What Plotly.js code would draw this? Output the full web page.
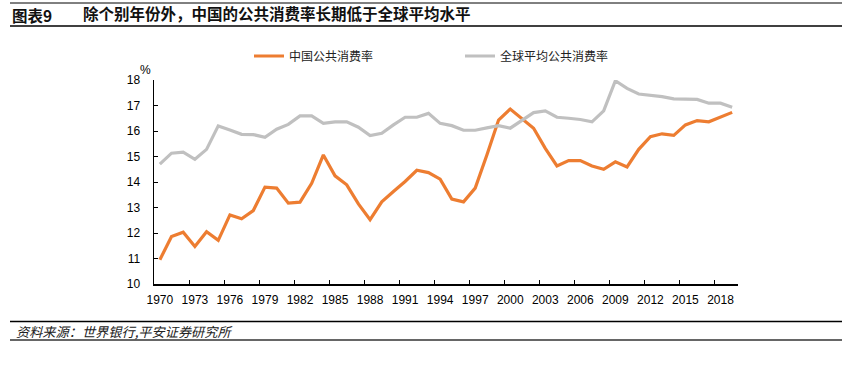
<!DOCTYPE html>
<html>
<head>
<meta charset="utf-8">
<script src="https://cdn.plot.ly/plotly-3.0.1.min.js"></script>
<style>html,body{margin:0;padding:0;background:#fff;}#chart{width:865px;height:366px;}</style>
</head>
<body>
<div id="chart"></div>
<script>
var years = [];
for (var y = 1970; y <= 2019; y++) years.push(y);

var chinaRate = [10.95, 11.86, 12.03, 11.47, 12.05, 11.71, 12.71, 12.56, 12.88, 13.80,
                 13.76, 13.17, 13.21, 13.95, 15.06, 14.24, 13.89, 13.14, 12.52, 13.22,
                 13.63, 14.02, 14.46, 14.37, 14.11, 13.33, 13.22, 13.76, 15.06, 16.43,
                 16.86, 16.50, 16.11, 15.32, 14.63, 14.84, 14.84, 14.63, 14.50, 14.79,
                 14.59, 15.28, 15.78, 15.89, 15.83, 16.24, 16.41, 16.36, 16.54, 16.73];

var worldRate = [14.70, 15.13, 15.17, 14.89, 15.28, 16.20, 16.04, 15.87, 15.86, 15.75,
                 16.07, 16.26, 16.59, 16.59, 16.30, 16.36, 16.36, 16.15, 15.82, 15.91,
                 16.24, 16.54, 16.54, 16.69, 16.30, 16.21, 16.03, 16.03, 16.12, 16.21,
                 16.11, 16.43, 16.72, 16.79, 16.54, 16.50, 16.45, 16.36, 16.79, 17.97,
                 17.67, 17.45, 17.40, 17.35, 17.26, 17.26, 17.24, 17.09, 17.09, 16.93];

var seriesNames = ['中国公共消费率', '全球平均公共消费率'];
var xTickVals = [1970, 1973, 1976, 1979, 1982, 1985, 1988, 1991, 1994, 1997, 2000, 2003, 2006, 2009, 2012, 2015, 2018];
var xTickText = xTickVals.map(String);
var boundaryTicks = xTickVals.slice(1).map(function (v) { return v - 0.5; });

var FONT = 'Liberation Sans, Arial, "Noto Sans CJK SC", sans-serif';

var traces = [
  {x: years, y: chinaRate, name: seriesNames[0], type: 'scatter', mode: 'lines',
   line: {color: '#ED7D31', width: 3.2}, hoverinfo: 'skip'},
  {x: years, y: worldRate, name: seriesNames[1], type: 'scatter', mode: 'lines',
   line: {color: '#C0C0C0', width: 3.2}, hoverinfo: 'skip'}
];

// pixel helpers (plot area: l=154, r=738, t=80, b=284)
function px(x) { return (x - 154) / 584; }
function py(y) { return (284 - y) / 204; }

var layout = {
  width: 865, height: 366,
  margin: {l: 154, r: 127, t: 80, b: 82},
  paper_bgcolor: '#fff', plot_bgcolor: '#fff',
  font: {family: FONT, size: 12, color: '#000'},
  showlegend: true,
  legend: {orientation: 'h', x: px(249), xanchor: 'left', y: py(56), yanchor: 'middle',
           font: {size: 12, color: '#222', family: '"Noto Sans CJK SC", sans-serif'},
           entrywidth: 166, entrywidthmode: 'pixels', bgcolor: 'rgba(0,0,0,0)', traceorder: 'normal'},
  title: {text: '除个别年份外，中国的公共消费率长期低于全球平均水平', xref: 'container', yref: 'container',
          x: 83 / 865, xanchor: 'left', y: 1 - 14.5 / 366, yanchor: 'middle',
          font: {family: '"Noto Sans CJK SC", sans-serif', size: 15.5, weight: 'bold', color: '#111'}},
  xaxis: {type: 'linear', range: [1969.5, 2019.5], tickmode: 'array', tickvals: xTickVals, ticktext: xTickText,
          ticks: '', showline: true, linecolor: '#000', linewidth: 1.5, showgrid: false, zeroline: false,
          ticklabelstandoff: 4, tickfont: {size: 12, color: '#000', family: FONT},
          minor: {tickmode: 'array', tickvals: boundaryTicks, ticks: 'inside', ticklen: 4, tickcolor: '#000', tickwidth: 1, showgrid: false},
          fixedrange: true},
  yaxis: {range: [10, 18], tickmode: 'linear', tick0: 10, dtick: 1, ticks: 'inside', ticklen: 4, tickcolor: '#000',
          showline: true, linecolor: '#000', linewidth: 1.5, showgrid: false, zeroline: false,
          ticklabelstandoff: 10, tickfont: {size: 12, color: '#000', family: FONT}, fixedrange: true},
  shapes: [
    {type: 'line', xref: 'paper', yref: 'paper', x0: px(10), x1: px(842), y0: py(3), y1: py(3), line: {color: '#000', width: 1}},
    {type: 'line', xref: 'paper', yref: 'paper', x0: px(10), x1: px(842), y0: py(26), y1: py(26), line: {color: '#000', width: 1.6}},
    {type: 'line', xref: 'paper', yref: 'paper', x0: px(10), x1: px(842), y0: py(321.5), y1: py(321.5), line: {color: '#000', width: 1.5}},
    {type: 'line', xref: 'paper', yref: 'paper', x0: px(10), x1: px(842), y0: py(340), y1: py(340), line: {color: '#333', width: 1.5}}
  ],
  annotations: [
    {text: '<b>图表9</b>', xref: 'paper', yref: 'paper', x: px(10), y: py(14.5), xanchor: 'left', yanchor: 'middle',
     showarrow: false, font: {family: '"Noto Sans CJK SC", sans-serif', size: 15.5, color: '#111'}},
    {text: '%', xref: 'paper', yref: 'paper', x: px(145), y: py(70), xanchor: 'center', yanchor: 'middle',
     showarrow: false, font: {family: FONT, size: 12, color: '#000'}},
    {text: '资料来源：世界银行,平安证券研究所', xref: 'paper', yref: 'paper', x: px(14), y: py(331), xanchor: 'left', yanchor: 'middle',
     showarrow: false, font: {family: '"Noto Sans CJK SC", sans-serif', size: 13.2, color: '#222', style: 'italic'}}
  ]
};

Plotly.newPlot('chart', traces, layout, {staticPlot: true, displayModeBar: false});
</script>
</body>
</html>
